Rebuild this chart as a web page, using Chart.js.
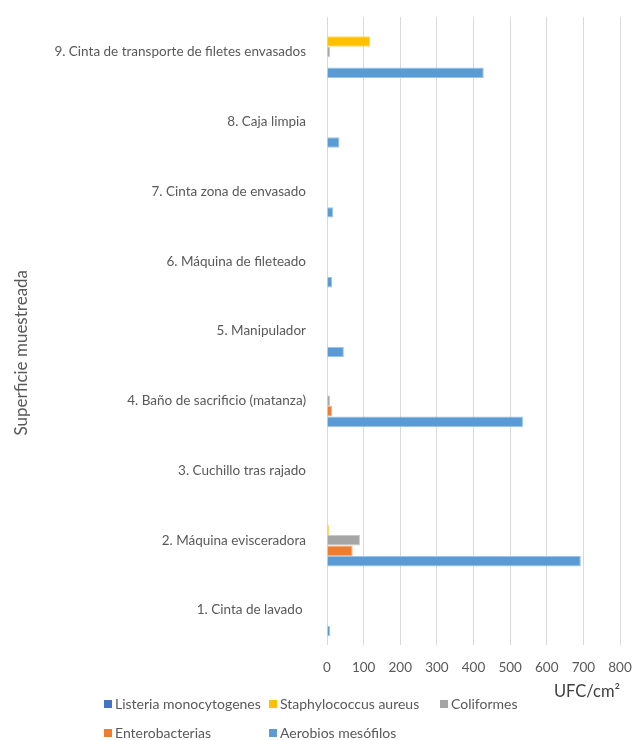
<!DOCTYPE html>
<html>
<head>
<meta charset="utf-8">
<script src="https://cdn.jsdelivr.net/npm/chart.js@4"></script>
<style>
  html, body { margin: 0; padding: 0; background: #ffffff; }
  canvas { display: block; }
</style>
</head>
<body>
<canvas id="c" width="633" height="740"></canvas>
<script>
const categories = [
  "1. Cinta de lavado ",
  "2. Máquina evisceradora",
  "3. Cuchillo tras rajado",
  "4. Baño de sacrificio (matanza)",
  "5. Manipulador",
  "6. Máquina de fileteado",
  "7. Cinta zona de envasado",
  "8. Caja limpia",
  "9. Cinta de transporte de filetes envasados"
];
const seriesNames = ["Listeria monocytogenes", "Staphylococcus aureus", "Coliformes", "Enterobacterias", "Aerobios mesófilos"];
const listeria   = [0, 0, 0, 0, 0, 0, 0, 0, 0];
const staph      = [0, 6, 0, 0, 0, 0, 0, 0, 118];
const coliformes = [0, 90, 0, 9, 0, 0, 0, 0, 9];
const entero     = [0, 70, 0, 14, 0, 0, 0, 0, 0];
const aerobios   = [9, 693, 0, 535, 46, 14, 17, 34, 428];
const xTicks = [0, 100, 200, 300, 400, 500, 600, 700, 800];

const colors = ["#4472C4", "#FFC000", "#A5A5A5", "#ED7D31", "#5B9BD5"];
const borders = ["#8FAADC", "#FFD966", "#C9C9C9", "#F4B183", "#9DC3E6"];
const values = [listeria, staph, coliformes, entero, aerobios];

const FONT = "Lato, 'Open Sans', sans-serif";
const TXT = "#595959";

const legendPlugin = {
  id: 'gridLegend',
  afterDraw(chart) {
    const ctx = chart.ctx;
    const cols = [104, 269, 440];
    const rows = [704, 733];
    ctx.save();
    ctx.font = "14px " + FONT;
    ctx.textBaseline = "middle";
    ctx.textAlign = "left";
    chart.data.datasets.forEach((ds, i) => {
      const x = cols[i % 3];
      const y = rows[Math.floor(i / 3)];
      ctx.fillStyle = ds.backgroundColor;
      ctx.fillRect(x, y - 4, 8, 8);
      ctx.fillStyle = TXT;
      ctx.fillText(ds.label, x + 11, y);
    });
    ctx.restore();
  }
};

new Chart(document.getElementById('c'), {
  type: 'bar',
  data: {
    labels: categories,
    datasets: seriesNames.map((name, i) => ({
      label: name,
      data: values[i],
      backgroundColor: colors[i],
      borderColor: borders[i],
      borderWidth: i === 0 ? 0 : 1,
      categoryPercentage: 0.75,
      barPercentage: 1.0
    }))
  },
  options: {
    indexAxis: 'y',
    responsive: false,
    animation: false,
    layout: { padding: { left: 0, right: 13, top: 17, bottom: 35 } },
    plugins: {
      legend: { display: false },
      tooltip: { enabled: false }
    },
    scales: {
      y: {
        type: 'category',
        reverse: true,
        grid: { display: false, drawTicks: false },
        border: { display: false },
        ticks: { color: TXT, font: { family: FONT, size: 13.5 }, padding: 21 },
        title: {
          display: true,
          text: "Superficie muestreada          ",
          color: TXT,
          font: { family: FONT, size: 17 },
          padding: { top: 11, bottom: 0 }
        },
        afterFit(scale) {
          scale.width = 327;
          scale.paddingTop = 0;
          scale.paddingBottom = 0;
        }
      },
      x: {
        min: 0,
        max: 800,
        afterBuildTicks(scale) { scale.ticks = xTicks.map(v => ({ value: v })); },
        grid: { color: "#D9D9D9", lineWidth: 1, drawTicks: false },
        border: { display: false },
        ticks: { color: TXT, font: { family: FONT, size: 13.5 }, padding: 15 },
        title: {
          display: true,
          text: "UFC/cm²",
          align: 'end',
          color: "#404040",
          font: { family: FONT, size: 16.5 },
          padding: { top: 0, bottom: 3 }
        },
        afterFit(scale) {
          scale.height = 60;
          scale.paddingLeft = 0;
          scale.paddingRight = 0;
        }
      }
    }
  },
  plugins: [legendPlugin]
});
</script>
</body>
</html>
